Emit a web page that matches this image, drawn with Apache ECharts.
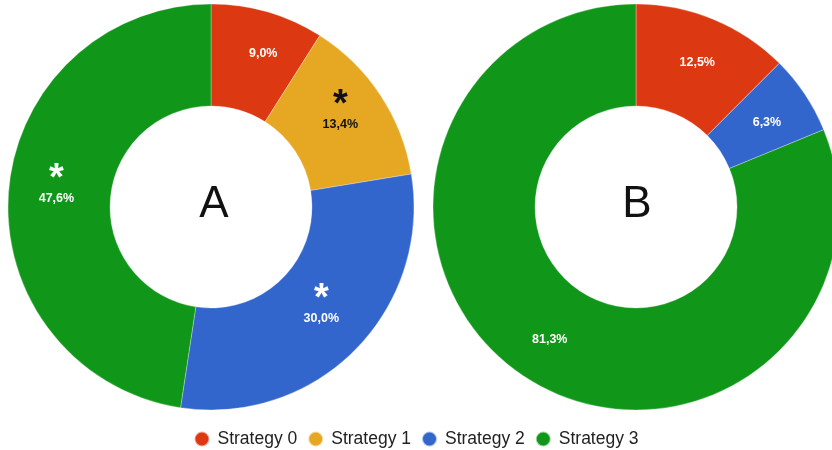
<!DOCTYPE html>
<html>
<head>
<meta charset="utf-8">
<script src="https://cdn.jsdelivr.net/npm/echarts@6/dist/echarts.min.js"></script>
<style>
  html, body { margin: 0; padding: 0; background: #fff; }
  #chart { width: 832px; height: 450px; }
</style>
</head>
<body>
<div id="chart"></div>
<script>
// data
const strategies = ['Strategy 0', 'Strategy 1', 'Strategy 2', 'Strategy 3']
const colors = ['#dc3912', '#e6a823', '#3366cc', '#109618']
const valuesA = [9.0, 13.4, 30.0, 47.6]
const valuesB = [12.5, 0, 6.3, 81.3]
// which slices carry the significance asterisk
const starsA = [false, true, true, true]
const starsB = [false, false, false, false]

// small label nudges (style only)
const nudgeA = [[9, -5], [0, 0], [0, 0], [0, 0]]
const nudgeB = [[2, -1], [0, 0], [2, 2], [0, 4]]

const myChart = echarts.init(document.getElementById('chart'))

const fmt = v => v.toFixed(1).replace('.', ',') + '%'

const buildData = (values, stars, nudge) => {
  return strategies.map((name, i) => {
    const dark = i === 1 // yellow slice gets black text
    const txt = dark ? '#111' : '#fff'
    const off = stars[i] ? [nudge[i][0], nudge[i][1] - 15] : nudge[i]
    return {
      name: name,
      value: values[i],
      itemStyle: { color: colors[i] },
      label: {
        show: values[i] > 0,
        formatter: stars[i] ? '{star|*}\n{pct|' + fmt(values[i]) + '}' : '{pct|' + fmt(values[i]) + '}',
        offset: off,
        rich: {
          star: { color: txt, fontSize: 38, fontWeight: 'bold', lineHeight: 36, height: 36, padding: [12, 0, 0, 0] },
          pct: { color: txt, fontSize: 12.5, fontWeight: 'bold', lineHeight: 14 }
        }
      }
    }
  })
}

const makeSeries = (name, center, values, stars, nudge) => ({
  name: name,
  type: 'pie',
  center: center,
  radius: [101, 203],
  startAngle: 90,
  clockwise: true,
  avoidLabelOverlap: false,
  emphasis: { scale: false },
  itemStyle: { borderColor: 'rgba(255,255,255,0.6)', borderWidth: 0.5 },
  label: {
    show: true,
    position: 'inside',
    fontFamily: 'Liberation Sans, Arial, sans-serif'
  },
  labelLine: { show: false },
  data: buildData(values, stars, nudge)
})

const centerText = (t, x) => ({
  text: t, left: x, top: 178, textAlign: 'center',
  textStyle: { fontSize: 44, fontWeight: 'normal', color: '#111', fontFamily: 'Liberation Sans, Arial, sans-serif' }
})

const option = {
  animation: false,
  title: [centerText('A', 209), centerText('B', 632)],
  legend: {
    data: strategies,
    icon: 'circle',
    left: 'center',
    top: 425,
    itemWidth: 15,
    itemHeight: 15,
    itemGap: 10,
    textStyle: { fontSize: 17.5, color: '#222', padding: [0, 0, 0, 3], fontFamily: 'Liberation Sans, Arial, sans-serif' }
  },
  series: [
    makeSeries('A', [211, 207], valuesA, starsA, nudgeA),
    makeSeries('B', [636, 207], valuesB, starsB, nudgeB)
  ]
}

myChart.setOption(option)
</script>
</body>
</html>
